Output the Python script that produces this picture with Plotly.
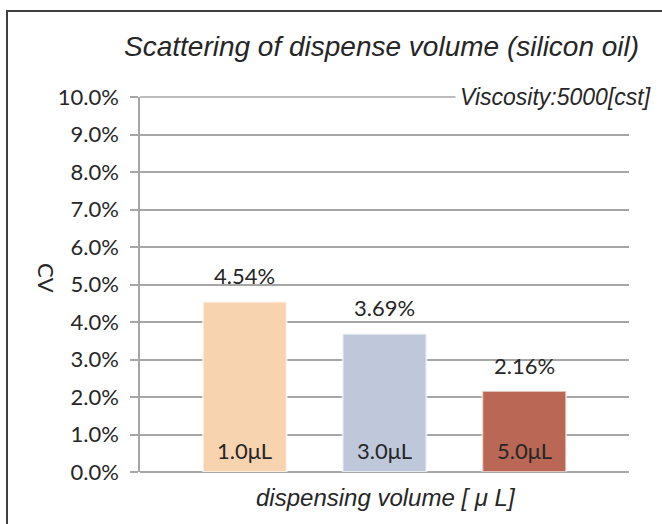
import plotly.graph_objects as go

categories = ["1.0μL", "3.0μL", "5.0μL"]
cv_values = [4.54, 3.69, 2.16]
value_labels = ["4.54%", "3.69%", "2.16%"]
bar_colors = ["#F8D3B0", "#BFC8DA", "#BA6756"]
tick_vals = [0, 1, 2, 3, 4, 5, 6, 7, 8, 9, 10]
tick_text = ["0.0%", "1.0%", "2.0%", "3.0%", "4.0%", "5.0%", "6.0%", "7.0%", "8.0%", "9.0%", "10.0%"]
y_max = 10

W, H = 662, 524
L, R, T, B = 140, 33, 97, 52
PW, PH = W - L - R, H - T - B
GRID = "#A6A6A6"


def px(x):
    return (x - L) / PW


def py(y):
    return (H - B - y) / PH


xs = [0, 1, 2]
fig = go.Figure()
fig.add_trace(go.Bar(
    x=xs, y=cv_values, width=0.6,
    marker=dict(color=bar_colors, line=dict(color="rgba(255,255,255,0.6)", width=2)),
    hoverinfo="skip", showlegend=False,
))

TICKFONT = dict(family="Lato, Open Sans, sans-serif", size=22, color="#262626")
ITAL = dict(family="Liberation Sans, Arial, sans-serif", color="#262626")

annotations = []
for i, (v, t) in enumerate(zip(cv_values, value_labels)):
    annotations.append(dict(x=xs[i], y=v, xref="x", yref="y", text=t, showarrow=False,
                            yanchor="middle", yshift=26, font=TICKFONT))
    annotations.append(dict(x=xs[i], y=0, xref="x", yref="y", text=categories[i], showarrow=False,
                            yanchor="middle", yshift=22, font=TICKFONT))

annotations.append(dict(x=px(381), y=py(46), xref="paper", yref="paper",
                        text="<i>Scattering of dispense volume (silicon oil)</i>",
                        showarrow=False, xanchor="center", yanchor="middle",
                        font=dict(size=28, **ITAL)))
annotations.append(dict(x=px(656), y=y_max, xref="paper", yref="y",
                        text="<i>Viscosity:5000[cst]</i>", showarrow=False,
                        xanchor="right", yanchor="middle", bgcolor="white",
                        borderpad=4, font=dict(size=23, **ITAL)))
annotations.append(dict(x=px(386), y=py(497), xref="paper", yref="paper",
                        text="<i>dispensing volume [ μ L]</i>", showarrow=False,
                        xanchor="center", yanchor="middle",
                        font=dict(size=24, **ITAL)))
annotations.append(dict(x=px(47), y=py(278), xref="paper", yref="paper",
                        text="CV", showarrow=False, textangle=90,
                        xanchor="center", yanchor="middle", font=TICKFONT))

fig.update_layout(
    width=W, height=H,
    margin=dict(l=L, r=R, t=T, b=B, pad=0),
    paper_bgcolor="white", plot_bgcolor="white",
    bargap=0.4,
    xaxis=dict(range=[-0.75, 2.75], showticklabels=False, showgrid=False, zeroline=False,
               showline=False, ticks=""),
    yaxis=dict(range=[0, y_max], tickvals=tick_vals, ticktext=tick_text,
               showgrid=True, gridcolor=GRID, gridwidth=1.5,
               zeroline=True, zerolinecolor=GRID, zerolinewidth=1.5,
               showline=True, linecolor=GRID, linewidth=1.5,
               ticks="outside", ticklen=8, tickcolor=GRID, tickwidth=1.5,
               ticklabelstandoff=7, tickfont=TICKFONT),
    annotations=annotations,
    shapes=[
        dict(type="line", xref="paper", yref="paper", x0=0, x1=1, y0=1, y1=1,
             line=dict(color=GRID, width=1.5), layer="below"),
        dict(type="rect", xref="paper", yref="paper",
             x0=px(7), y0=py(560), x1=px(700), y1=py(11),
             line=dict(color="#3F3F3F", width=2), fillcolor="rgba(0,0,0,0)", layer="above"),
    ],
)

fig.write_html("out.html", config={"displayModeBar": False},
               post_script="document.body.style.margin='0';document.body.style.overflow='hidden';")
